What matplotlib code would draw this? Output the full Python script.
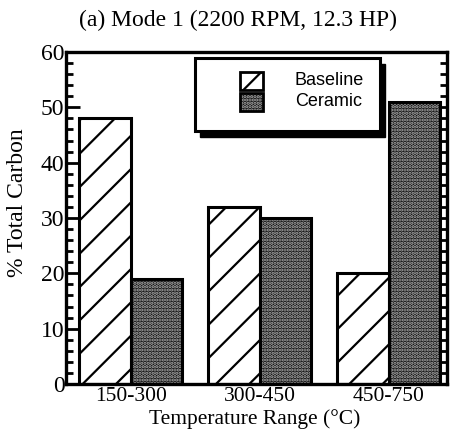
import numpy as np
import matplotlib.pyplot as plt
from matplotlib.patches import Rectangle
from matplotlib.ticker import MultipleLocator

# Datos
rangos = ['150-300', '300-450', '450-750']
baseline = [48, 32, 20]
ceramic = [19, 30, 51]
series = ['Baseline', 'Ceramic']

plt.rcParams['font.family'] = ['Liberation Serif', 'DejaVu Serif']
plt.rcParams['hatch.linewidth'] = 1.6

fig = plt.figure(figsize=(4.51, 4.32), dpi=100)
ax = fig.add_axes([0.146, 0.1111, 0.845, 0.7685])

x = np.arange(len(rangos))
w = 0.4
oscuro = '#111111'
puntos = '#b0b0b0'

# Barras Baseline: rayado diagonal
ax.bar(x - w / 2, baseline, w, color='white', edgecolor='black',
       hatch='/', linewidth=2.2, zorder=2)
# Barras Ceramic: fondo oscuro con puntos claros
ax.bar(x + w / 2, ceramic, w, color=oscuro, edgecolor=puntos,
       hatch='.....', linewidth=0, zorder=2)
ax.bar(x + w / 2, ceramic, w, color='none', edgecolor='black',
       linewidth=2.2, zorder=3)

ax.set_xlim(-0.504, 2.45)
ax.set_ylim(0, 60)
ax.set_xticks(x)
ax.set_xticklabels(rangos, fontsize=15.5)
ax.yaxis.set_major_locator(MultipleLocator(10))
ax.yaxis.set_minor_locator(MultipleLocator(2))
ax.tick_params(axis='y', which='both', direction='in', left=True, right=True,
               labelsize=17, pad=1)
ax.tick_params(axis='y', which='major', length=10, width=2)
ax.tick_params(axis='y', which='minor', length=5, width=2)
ax.tick_params(axis='x', length=0, pad=2.5)
for s in ax.spines.values():
    s.set_linewidth(2.4)

ax.set_ylabel('% Total Carbon', fontsize=17)
ax.yaxis.set_label_coords(-0.10, 0.546)
ax.set_xlabel('Temperature Range (°C)', fontsize=15.5)
ax.xaxis.set_label_coords(0.496, -0.076)
ax.text(0.452, 1.095, '(a) Mode 1 (2200 RPM, 12.3 HP)', transform=ax.transAxes,
        ha='center', va='center', fontsize=17)

# Leyenda dibujada a mano (caja con sombra)
ax.add_patch(Rectangle((0.352, 0.745), 0.485, 0.22, transform=ax.transAxes,
                       facecolor='black', edgecolor='black', zorder=4))
ax.add_patch(Rectangle((0.339, 0.763), 0.485, 0.219, transform=ax.transAxes,
                       facecolor='white', edgecolor='black', linewidth=2.2, zorder=5))
ax.add_patch(Rectangle((0.457, 0.887), 0.06, 0.054, transform=ax.transAxes,
                       facecolor='white', edgecolor='black', hatch='/',
                       linewidth=2, zorder=6))
ax.add_patch(Rectangle((0.457, 0.822), 0.06, 0.056, transform=ax.transAxes,
                       facecolor=oscuro, edgecolor=puntos, hatch='.....',
                       linewidth=0, zorder=6))
ax.add_patch(Rectangle((0.457, 0.822), 0.06, 0.056, transform=ax.transAxes,
                       facecolor='none', edgecolor='black', linewidth=2, zorder=7))
for nombre, yy in zip(series, [0.914, 0.85]):
    ax.text(0.601, yy, nombre, transform=ax.transAxes, ha='left', va='center',
            fontsize=13, family=['Liberation Sans Narrow', 'Liberation Sans'],
            zorder=8)

fig.savefig('out.png', dpi=100)
